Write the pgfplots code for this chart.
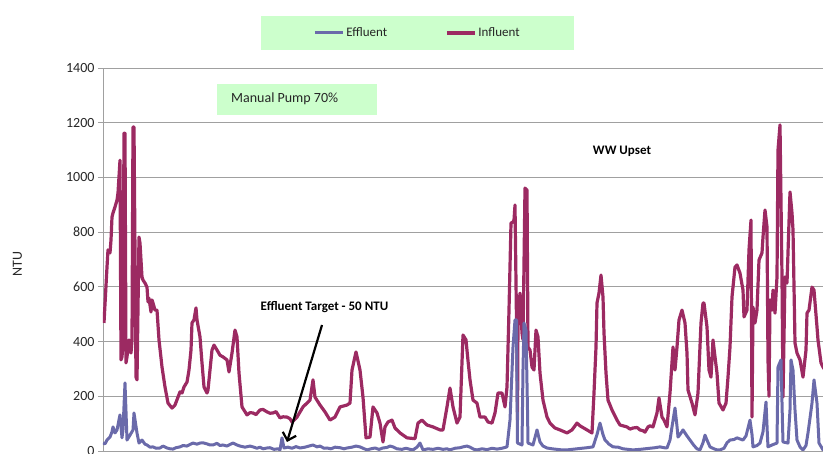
\documentclass[border=0pt]{standalone}
\usepackage{pgfplots}
\pgfplotsset{compat=1.18}
\usepackage{fontspec}
\setmainfont{Carlito}
\usetikzlibrary{arrows.meta}
\definecolor{infl}{RGB}{156,42,98}
\definecolor{effl}{RGB}{106,106,170}
\definecolor{boxgreen}{RGB}{204,255,204}
\definecolor{gridgray}{RGB}{160,160,160}
\begin{document}
\begin{tikzpicture}[x=1pt,y=1pt]
\useasboundingbox (0,0) rectangle (823,454);
\clip (0,0) rectangle (823,454);
\begin{axis}[
  at={(103pt,3pt)}, anchor=south west,
  scale only axis, width=727pt, height=383pt,
  xmin=103, xmax=830, ymin=0, ymax=1400,
  axis x line*=bottom, axis y line*=left,
  axis line style={gridgray, line width=0.8pt},
  xtick=\empty,
  ytick={0,200,...,1400},
  ymajorgrids, major grid style={gridgray, line width=0.8pt},
  tick align=outside, major tick length=5pt,
  tick style={gridgray, line width=0.8pt},
  yticklabel style={font=\fontsize{14}{16}\selectfont, text=black!85},
  /pgf/number format/assume math mode=true,
  /pgf/number format/1000 sep={},
  ylabel={NTU},
  ylabel style={at={(axis description cs:-0.1176,0.488)}, anchor=center, font=\fontsize{14}{16}\selectfont, text=black!85},
  legend columns=2,
  reverse legend,
  legend style={at={(axis description cs:0.4326,1.0914)}, anchor=center, draw=none, fill=boxgreen,
    inner xsep=52pt, inner ysep=10pt, font=\fontsize{13}{15}\selectfont, text=black!85,
    /tikz/every even column/.append style={column sep=56pt}},
  legend image code/.code={\draw[#1] (2pt,0pt) -- (30pt,0pt);},
]
\addplot[infl, line width=3.2pt, line join=round] coordinates {
(104,468) (107,672) (108,735) (110,724) (111,771) (112,855) (113,870) (115,892) (117,917) (118,943)
(120,1063) (121,333) (122,344) (123,395) (124,1162) (125,1162) (126,322) (127,344) (129,406) (131,358)
(132,406) (133,1184) (134,1184) (136,270) (137,260) (139,782) (140,760) (142,636) (143,625) (145,614)
(147,599) (148,545) (149,559) (151,508) (152,552) (153,541) (155,515) (157,515) (159,406) (162,307)
(165,234) (168,175) (172,157) (175,168) (178,197) (180,216) (182,212) (184,234) (187,252) (189,296)
(191,369) (192,468) (194,479) (196,523) (197,479) (200,417) (202,322) (204,234) (207,212) (208,223)
(210,296) (212,369) (214,387) (217,369) (220,350) (223,344) (227,333) (229,289) (232,358) (235,442)
(237,417) (239,285) (242,161) (247,132) (250,140) (253,139) (256,133) (260,150) (263,152) (267,143)
(270,138) (273,139) (276,144) (280,121) (283,125) (287,124) (290,118) (292,106) (297,124) (303,161)
(310,186) (313,260) (315,197) (320,168) (325,143) (330,113) (335,124)
(340,161) (347,168) (350,175) (352,296) (356,362) (360,296) (363,197) (366,48) (370,51) (373,161)
(377,139) (380,102) (383,33) (385,88) (388,106) (392,113) (395,84) (400,66) (407,48) (415,45)
(418,102) (422,113) (427,95) (433,88) (440,77) (443,77) (447,161) (450,230) (453,161) (457,102)
(460,124) (463,424) (466,406) (468,330) (470,260) (473,186) (477,175) (480,124) (485,124) (488,106)
(492,102) (495,139) (498,212) (502,212) (505,161) (507,234) (509,515) (511,833) (513,837) (514,844)
(515,899) (517,333) (517.5,113) (518,479) (520,577) (522,431) (523,406) (525,961) (527,954) (528,380)
(530,369) (532,307) (534,296) (536,442) (538,417) (540,285) (543,186) (547,124) (550,102) (555,84)
(560,77) (567,66) (572,77) (577,102) (580,92) (587,77) (592,66) (594,212) (596,380) (597,541)
(599,577) (601,643) (603,563) (604,431) (606,285) (608,186) (612,150) (617,113) (620,95) (623,92)
(627,88) (630,80) (633,84) (637,86) (640,77) (643,74) (645,69) (648,88) (650,92) (653,88) (657,139)
(659,194) (662,124) (664,113) (667,88)
(670,212) (673,380) (675,296) (677,380) (679,479) (682,515) (685,468) (687,358) (688,223) (692,175)
(695,132) (698,212) (701,468) (703,541) (704,541) (707,453) (709,296) (711,270) (713,406) (715,344)
(717,285) (719,175) (723,150) (726,175) (728,270) (730,380) (732,563) (735,672) (737,680) (740,650)
(743,588) (744,490) (747,515) (749,735) (751,844) (752,124) (753,526) (755,468) (757,515) (759,698)
(762,724) (763,782) (765,881) (767,819) (768,333) (769,200) (770,552) (772,515) (773,588) (775,504)
(777,636) (778,1100) (780,1192) (782,636) (783,197) (785,636) (787,614) (790,947) (792,870) (793,808)
(795,395) (797,358) (800,333) (803,270) (806,369) (807,504) (809,515) (812,599) (814,588) (817,453)
(818,406) (821,322) (823,307) (826,290)
};
\addlegendentry{Influent}
\addplot[effl, line width=3.0pt, line join=round] coordinates {
(103,29) (105,26) (107,40) (110,51) (112,70) (113,88) (115,66) (117,77) (120,132) (122,48)
(123,77) (125,249) (127,40) (130,58) (133,77) (134,139) (137,66) (139,29) (142,40) (145,25)
(147,22) (150,14) (153,15) (156,10) (160,11) (163,18) (167,11) (170,8) (173,7) (176,12)
(180,15) (183,20) (187,18) (190,24) (193,29) (197,25) (200,29) (203,30) (207,26) (210,22)
(213,22) (217,28) (220,20) (223,22) (227,18) (230,24) (233,29) (237,22) (240,18) (245,14)
(250,18) (253,15) (257,10) (260,14) (263,8) (267,11) (270,12) (274,6) (278,8) (280,4)
(282,48) (284,11) (288,14) (292,10) (296,16) (300,11) (305,14) (309,18) (313,22) (317,15)
(320,18) (324,10) (327,11) (331,8) (335,14) (340,12) (344,8) (347,11) (352,14) (356,18)
(360,15) (363,10) (367,4) (371,8) (375,11) (379,6) (383,11) (387,13) (390,18) (393,15)
(397,8) (402,6) (406,10) (410,6) (413,4) (417,14) (420,29) (423,4) (428,8) (433,6)
(438,10) (443,6) (447,8) (450,4) (455,10) (460,12) (464,16) (467,18) (470,14) (474,6)
(477,4) (482,8) (487,5) (492,10) (497,7) (502,10) (507,15) (510,113) (513,380) (515,479)
(516.5,479) (517.5,29) (522,22) (523,300) (524,468) (526,442) (527.5,150) (528,29) (533,22) (537,77)
(540,33) (543,18) (547,11) (552,8) (557,6) (562,4) (567,4) (572,6) (577,8) (582,10)
(587,12) (593,15) (597,60) (600,102) (603,60) (605,40) (609,25) (613,15) (618,14) (623,8)
(628,6) (633,4) (640,6) (645,8) (650,10) (655,12) (660,15) (664,12) (667,11) (670,40)
(672,88) (675,157) (677,90) (678,51) (680,60) (683,77) (687,55) (690,40) (694,20) (697,8)
(700,4) (703,30) (705,58) (707,40) (710,15) (714,8) (717,4) (720,4) (724,10) (727,30)
(730,40) (734,42) (737,48) (740,44) (743,40) (746,55) (750,113) (752,60) (753,15) (757,20)
(760,29) (763,70) (766,179) (767.5,50) (768,15) (772,22) (777,29) (778,307) (781,333) (782.5,100)
(783,33) (788,29) (790,150) (791,333) (793,296) (795,150) (797,40) (800,15) (803,4) (806,20)
(808,66) (810,120) (812,175) (814,260) (817,175) (819,29) (823,4) (826,4)
};
\addlegendentry{Effluent}
\end{axis}
\node[fill=boxgreen, anchor=north west, minimum width=160pt, minimum height=31pt, inner sep=0pt] at (217,370) {};
\node[anchor=west, font=\fontsize{14}{16}\selectfont, text=black!85, inner sep=0pt] at (231,355) {Manual Pump 70\%};
\node[font=\bfseries\fontsize{13}{15}\selectfont] at (622,303) {WW Upset};
\node[font=\bfseries\fontsize{13}{15}\selectfont] at (324.5,147) {Effluent Target - 50 NTU};
\draw[line width=2.2pt, -{Straight Barb[length=7pt,width=14pt]}] (322,129) -- (287,12);
\end{tikzpicture}
\end{document}
